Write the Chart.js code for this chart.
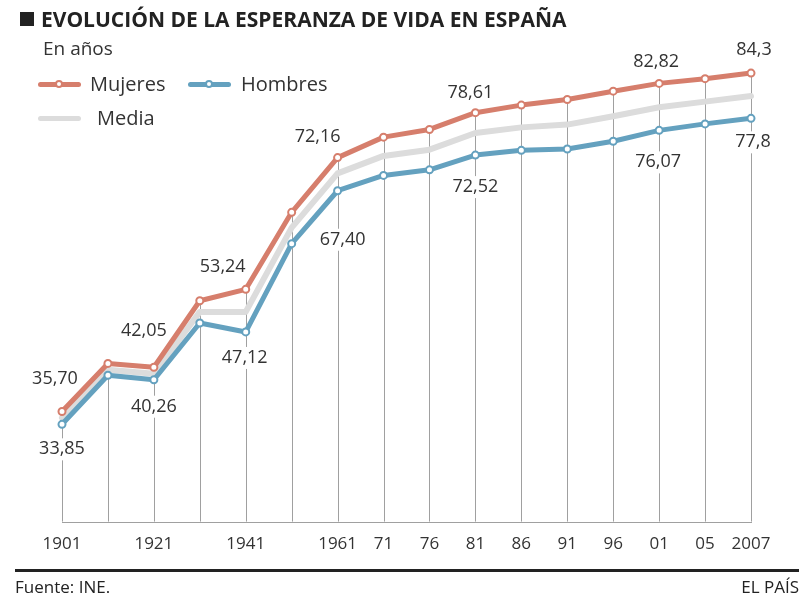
<!DOCTYPE html>
<html>
<head>
<meta charset="utf-8">
<script src="https://cdn.jsdelivr.net/npm/chart.js@4"></script>
<style>
  body { margin: 0; width: 805px; height: 595px; background: #fff; position: relative; overflow: hidden;
         font-family: "Open Sans", sans-serif; color: #333; }
  #chart { position: absolute; left: 0; top: 0; }
  .abs { position: absolute; white-space: nowrap; }
  .title { left: 41px; top: 5px; font-size: 21px; line-height: 28px; font-weight: 700; color: #222; }
  .square { left: 20px; top: 12px; width: 14px; height: 14px; background: #222; }
  .sub { left: 43px; top: 35px; font-size: 19px; line-height: 26px; }
  .leg { font-size: 20px; line-height: 28px; }
  .sw { height: 5px; width: 43px; border-radius: 3px; }
  .dot { width: 4px; height: 4px; border-radius: 50%; background: #fff; border: 2px solid; }
  .rule { left: 15px; top: 569px; width: 784px; height: 3px; background: #222; }
  .foot { top: 576px; font-size: 17px; line-height: 22px; color: #222; }
</style>
</head>
<body>
<canvas id="chart" width="805" height="595"></canvas>

<div class="abs square"></div>
<div class="abs title">EVOLUCIÓN DE LA ESPERANZA DE VIDA EN ESPAÑA</div>
<div class="abs sub">En años</div>

<div class="abs sw" style="left:38px;top:82px;background:#d67e6c"></div>
<div class="abs dot" style="left:55px;top:80px;border-color:#d67e6c"></div>
<div class="abs leg" style="left:90px;top:70px">Mujeres</div>
<div class="abs sw" style="left:188px;top:82px;background:#64a1bf"></div>
<div class="abs dot" style="left:205px;top:80px;border-color:#64a1bf"></div>
<div class="abs leg" style="left:241px;top:70px">Hombres</div>
<div class="abs sw" style="left:38px;top:116px;background:#dcdcdc"></div>
<div class="abs leg" style="left:97px;top:104px">Media</div>

<div class="abs rule"></div>
<div class="abs foot" style="left:15px">Fuente: INE.</div>
<div class="abs foot" style="right:6px">EL PAÍS</div>

<script>
const years = [1901, 1911, 1921, 1931, 1941, 1951, 1961, 1971, 1976, 1981, 1986, 1991, 1996, 2001, 2005, 2007];
const tickLabels = ['1901', '', '1921', '', '1941', '', '1961', '71', '76', '81', '86', '91', '96', '01', '05', '2007'];

const mujeres = [35.70, 42.6, 42.05, 51.6, 53.24, 64.3, 72.16, 75.1, 76.2, 78.61, 79.7, 80.5, 81.7, 82.82, 83.5, 84.3];
const hombres = [33.85, 40.9, 40.26, 48.4, 47.12, 59.8, 67.40, 69.6, 70.4, 72.52, 73.2, 73.4, 74.5, 76.07, 77.0, 77.8];
const media   = [34.8, 41.7, 41.1, 50.0, 50.0, 62.1, 69.9, 72.4, 73.3, 75.7, 76.5, 76.9, 78.1, 79.4, 80.2, 81.0];

const mujeresLabels = ['35,70', '', '42,05', '', '53,24', '', '72,16', '', '', '78,61', '', '', '', '82,82', '', '84,3'];
const hombresLabels = ['33,85', '', '40,26', '', '47,12', '', '67,40', '', '', '72,52', '', '', '', '76,07', '', '77,8'];

// where each value label sits relative to its point (dx, dy)
const mujeresOffsets = {0: [-7, -33], 2: [-10, -36], 4: [-23, -22], 6: [-20, -21], 9: [-5, -20], 13: [-3, -22], 15: [3, -23]};
const hombresOffsets = {0: [0, 25], 2: [0, 27], 4: [-1, 26], 6: [5, 49], 9: [0, 32], 13: [-1, 32], 15: [2, 24]};

const colMujeres = '#d67e6c';
const colHombres = '#64a1bf';
const colMedia = '#dcdcdc';

function drawLabels(ctx, xs, ys, values, texts, offsets) {
  texts.forEach((t, i) => {
    if (!t) return;
    const [dx, dy] = offsets[i];
    const px = xs.getPixelForValue(i) + dx;
    const py = ys.getPixelForValue(values[i]) + dy;
    const w = ctx.measureText(t).width;
    ctx.fillStyle = '#fff';
    ctx.fillRect(px - w / 2 - 2, py - 11, w + 4, 22);
    ctx.fillStyle = '#333';
    ctx.fillText(t, px, py);
  });
}

const guides = {
  id: 'guides',
  beforeDatasetsDraw(chart) {
    const { ctx, chartArea, scales: { x, y } } = chart;
    ctx.save();
    ctx.strokeStyle = '#a0a0a0';
    ctx.lineWidth = 1;
    ctx.beginPath();
    years.forEach((yr, i) => {
      const px = Math.round(x.getPixelForValue(i)) + 0.5;
      ctx.moveTo(px, y.getPixelForValue(mujeres[i]));
      ctx.lineTo(px, chartArea.bottom);
    });
    const by = Math.round(chartArea.bottom) + 0.5;
    ctx.moveTo(Math.round(x.getPixelForValue(0)), by);
    ctx.lineTo(Math.round(x.getPixelForValue(years.length - 1)) + 1, by);
    ctx.stroke();

    ctx.font = '18px "Open Sans"';
    ctx.textAlign = 'center';
    ctx.textBaseline = 'middle';
    drawLabels(ctx, x, y, mujeres, mujeresLabels, mujeresOffsets);
    drawLabels(ctx, x, y, hombres, hombresLabels, hombresOffsets);
    ctx.restore();
  }
};

const lineStyle = {
  borderWidth: 5,
  borderJoinStyle: 'round',
  borderCapStyle: 'round',
  pointRadius: 3.5,
  pointBorderWidth: 2,
  pointBackgroundColor: '#fff',
  tension: 0,
  clip: false
};

new Chart(document.getElementById('chart'), {
  type: 'line',
  data: {
    labels: years,
    datasets: [
      { ...lineStyle, label: 'Mujeres', data: mujeres, borderColor: colMujeres, pointBorderColor: colMujeres },
      { ...lineStyle, label: 'Hombres', data: hombres, borderColor: colHombres, pointBorderColor: colHombres },
      { ...lineStyle, label: 'Media', data: media, borderColor: colMedia, borderWidth: 6, pointRadius: 0 }
    ]
  },
  plugins: [guides],
  options: {
    responsive: false,
    animation: false,
    devicePixelRatio: 1,
    layout: { padding: { left: 62, right: 54, top: 40, bottom: 29 } },
    plugins: { legend: { display: false }, tooltip: { enabled: false } },
    scales: {
      x: {
        grid: { display: false, drawTicks: false },
        border: { display: false },
        ticks: {
          autoSkip: false, maxRotation: 0, padding: 12, color: '#333',
          font: { family: 'Open Sans', size: 17 },
          callback: (v, i) => tickLabels[i]
        }
      },
      y: { display: false, min: 19.88, max: 89.05 }
    }
  }
});
</script>
</body>
</html>
